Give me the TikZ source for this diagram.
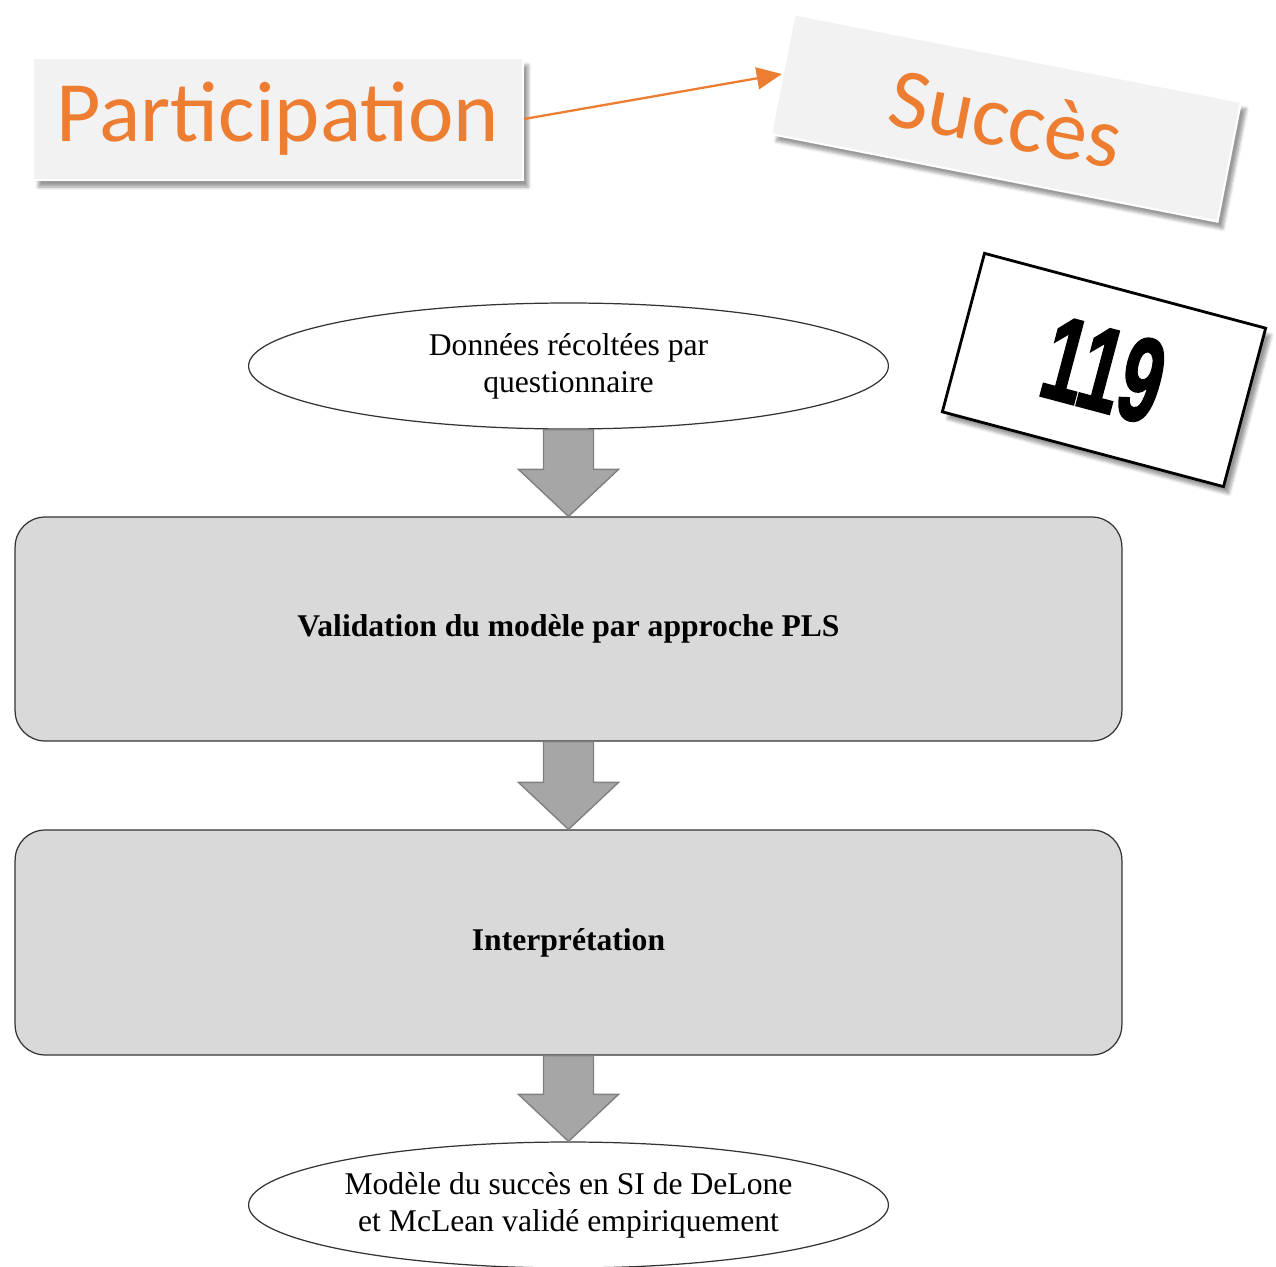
\documentclass[tikz,border=0pt]{standalone}
\usepackage{fontspec}
\setmainfont{Liberation Serif}
\newfontfamily\calibfont{Carlito}
\newfontfamily\chiffrefont{Liberation Sans}[BoldFeatures={FakeBold=2}]
\usepackage{xcolor}
\usepackage{tikz}
\usetikzlibrary{arrows.meta, positioning, shapes.geometric, calc, shadows.blur}
\definecolor{orange-titre}{RGB}{237,125,49}
\definecolor{fond-clair}{RGB}{242,242,242}
\definecolor{fond-etape}{RGB}{217,217,217}
\definecolor{gris-fleche}{RGB}{166,166,166}
\definecolor{bord-fleche}{RGB}{128,128,128}

% grosse fleche grise entre deux noeuds
\newcommand{\grosseFleche}[2]{%
  \draw[blockarrow] ($(#1.south)+(-25,0)$) -- ($(#2.north)+(-25,-47)$)
    -- ($(#2.north)+(-50,-47)$) -- (#2.north) -- ($(#2.north)+(50,-47)$)
    -- ($(#2.north)+(25,-47)$) -- ($(#1.south)+(25,0)$) -- cycle;}

\begin{document}
\begin{tikzpicture}[
    x=0.02cm, y=-0.02cm,
    every node/.style={font=\fontsize{18}{21}\selectfont},
    etiquette/.style={rectangle, fill=fond-clair, draw=white, line width=1.2pt,
                      minimum height=2.44cm, inner sep=0pt,
                      text=orange-titre, font=\calibfont\fontsize{49}{55}\selectfont,
                      blur shadow={shadow xshift=3pt, shadow yshift=-4pt, shadow blur steps=6}},
    bulle/.style={ellipse, draw=black!80, line width=0.7pt, fill=white,
                  minimum width=12.8cm, minimum height=2.52cm, inner sep=0pt, align=center},
    etape/.style={rectangle, rounded corners=0.6cm, draw=black!80, line width=0.7pt,
                  fill=fond-etape, minimum width=22.14cm, minimum height=4.48cm,
                  align=center, font=\bfseries\fontsize{18}{21}\selectfont},
    blockarrow/.style={fill=gris-fleche, draw=bord-fleche, line width=0.8pt},
  ]
    \useasboundingbox (0,0) rectangle (1276,1267);

    \node[etiquette, minimum width=9.8cm] (part) at (278,119) {Participation};
    \node[etiquette, minimum width=9.1cm, rotate=-11.1] (succ) at (1006,118) {Succès};
    \draw[orange-titre, line width=1.3pt, -{Triangle[length=5mm, width=4.4mm]}]
      (part.east) -- (succ.west);

    \node[rectangle, draw=black, line width=1.6pt, fill=white, rotate=-14.9,
          minimum width=5.82cm, minimum height=3.28cm, inner sep=0pt,
          blur shadow={shadow xshift=3pt, shadow yshift=-4pt, shadow blur steps=6}]
      (cadre) at (1104,370) {};
    \node[rotate=-14.9, xscale=0.62, inner sep=0pt,
          font=\chiffrefont\bfseries\fontsize{68}{72}\selectfont]
      (nombre) at (cadre.center) {119};

    \node[bulle] (donnees) at (568.5,366) {Données récoltées par\\questionnaire};
    \node[etape] (valid) at (568.5,629) {Validation du modèle par approche PLS};
    \node[etape, minimum height=4.5cm] (interp) at (568.5,942.5) {Interprétation};
    \node[bulle] (modele) at (568.5,1205)
      {Modèle du succès en SI de DeLone\\et McLean validé empiriquement};

    \grosseFleche{donnees}{valid}
    \grosseFleche{valid}{interp}
    \grosseFleche{interp}{modele}
\end{tikzpicture}
\end{document}
